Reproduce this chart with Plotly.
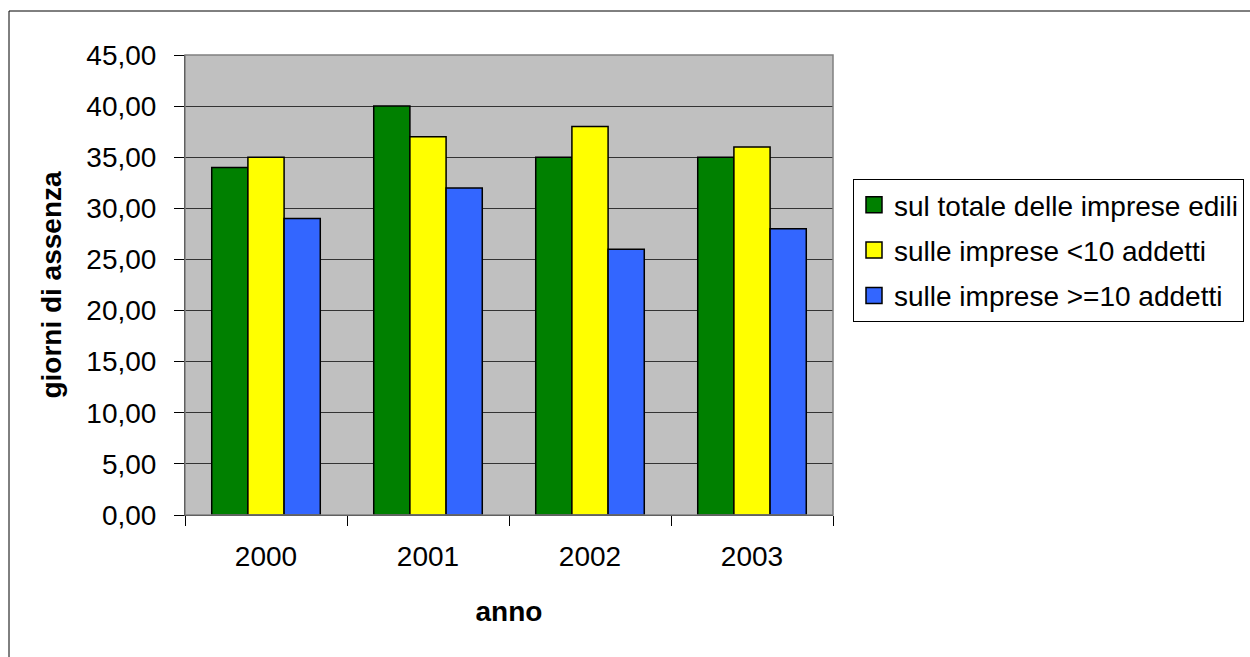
import plotly.graph_objects as go

years = ["2000", "2001", "2002", "2003"]
totale = [34, 40, 35, 35]
piccole = [35, 37, 38, 36]
grandi = [29, 32, 26, 28]
series_names = ["sul totale delle imprese edili", "sulle imprese <10 addetti", "sulle imprese >=10 addetti"]
series_colors = ["#008000", "#FFFF00", "#3366FF"]
y_ticks = [0, 5, 10, 15, 20, 25, 30, 35, 40, 45]

FONT = "Arial, Liberation Sans, sans-serif"
FS = 28

fig = go.Figure()
for i, (vals, name, col) in enumerate(zip([totale, piccole, grandi], series_names, series_colors)):
    fig.add_trace(go.Bar(
        x=years, y=vals, name=name, legendgroup=f"g{i}", showlegend=False,
        marker=dict(color=col, line=dict(color="black", width=1.5)),
    ))
    # legend proxy with a larger square symbol
    fig.add_trace(go.Scatter(
        x=[None], y=[None], mode="markers", name=name, legendgroup=f"g{i}",
        marker=dict(symbol="square", size=16, color=col, line=dict(color="black", width=1.5)),
    ))

fig.update_layout(
    width=1250, height=657,
    margin=dict(l=185, r=417, t=55, b=142, autoexpand=False),
    paper_bgcolor="white", plot_bgcolor="#C0C0C0",
    barmode="group", bargap=0.33, bargroupgap=0,
    separators=",.",
    font=dict(family=FONT, size=FS, color="black"),
    showlegend=True,
    legend=dict(
        x=(853 - 185) / 648, y=(515 - 179) / 460, xanchor="left", yanchor="top",
        bgcolor="white", bordercolor="black", borderwidth=1,
        font=dict(family=FONT, size=FS, color="black"),
        tracegroupgap=6, itemsizing="trace",
    ),
    xaxis=dict(
        type="category", tickson="boundaries", ticks="outside", ticklen=10,
        tickcolor="black", showline=True, linecolor="black", linewidth=1,
        tickfont=dict(size=FS), showgrid=False, ticklabelstandoff=16,
        title=dict(text="<b>anno</b>", font=dict(size=FS), standoff=30),
    ),
    yaxis=dict(
        range=[0, 45], tickvals=y_ticks, tickformat=".2f",
        ticks="outside", ticklen=10, tickcolor="black",
        showline=True, linecolor="black", linewidth=1,
        showgrid=True, gridcolor="#333333", gridwidth=1,
        tickfont=dict(size=FS), zeroline=False, ticklabelstandoff=12,
        title=dict(text="<b>giorni di assenza</b>", font=dict(size=FS), standoff=16),
    ),
    shapes=[
        dict(type="rect", xref="paper", yref="paper", x0=0, x1=1, y0=0, y1=1,
             line=dict(color="#808080", width=1.5), layer="above"),
        dict(type="rect", xref="paper", yref="paper",
             x0=(9 - 185) / 648, x1=(1270 - 185) / 648,
             y0=(515 - 670) / 460, y1=(515 - 11) / 460,
             line=dict(color="black", width=1)),
    ],
)

fig.write_html("out.html", config={"displayModeBar": False},
               post_script="document.body.style.margin='0';")
